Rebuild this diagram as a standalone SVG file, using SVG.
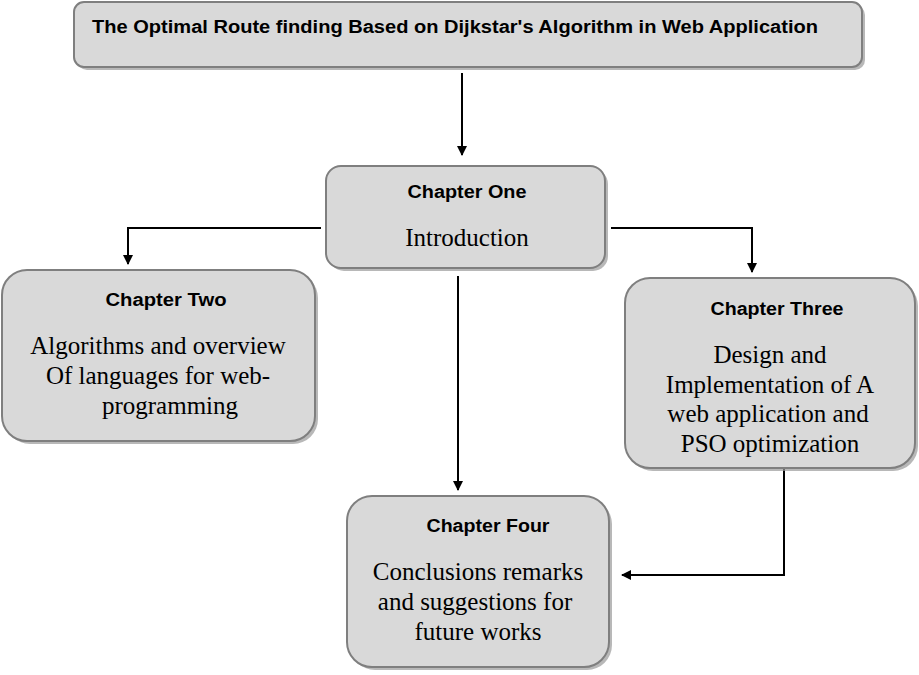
<svg xmlns="http://www.w3.org/2000/svg" width="919" height="675" viewBox="0 0 919 675">
<style>
.box{fill:#d9d9d9;stroke:#7f7f7f;stroke-width:2}
.shadow{fill:#9a9a9a;opacity:0.7}
.hd{font-family:"Liberation Sans",Arial,sans-serif;font-weight:bold;font-size:18px;fill:#000;text-anchor:middle}
.bd{font-family:"Liberation Serif","Times New Roman",serif;font-size:25px;fill:#000;text-anchor:middle}
.ln{fill:none;stroke:#000;stroke-width:2}
</style>
<defs>
<marker id="ah" markerWidth="10" markerHeight="10" refX="9" refY="5" orient="auto" markerUnits="userSpaceOnUse" viewBox="0 0 10 10">
<path d="M0,0 L10,5 L0,10 Z" fill="#000"/>
</marker>
</defs>
<rect width="919" height="675" fill="#fff"/>
<g id="connectors">
<path class="ln" d="M462,73 V155" marker-end="url(#ah)"/>
<path class="ln" d="M321,228 H128 V264" marker-end="url(#ah)"/>
<path class="ln" d="M611,228 H752 V272" marker-end="url(#ah)"/>
<path class="ln" d="M458,276 V490" marker-end="url(#ah)"/>
<path class="ln" d="M784,469 V575 H622" marker-end="url(#ah)"/>
</g>
<g id="title">
<rect class="shadow" x="77" y="5" width="788" height="65" rx="10"/>
<rect class="box" x="74" y="2" width="788" height="65" rx="10"/>
<text class="hd" x="455" y="33" textLength="726" lengthAdjust="spacingAndGlyphs">The Optimal Route finding Based on Dijkstar's Algorithm in Web Application</text>
</g>
<g id="chapter-one">
<rect class="shadow" x="329" y="169" width="279" height="102" rx="15"/>
<rect class="box" x="326" y="166" width="279" height="102" rx="15"/>
<text class="hd" x="467" y="198" textLength="119" lengthAdjust="spacingAndGlyphs">Chapter One</text>
<text class="bd" x="467" y="246">Introduction</text>
</g>
<g id="chapter-two">
<rect class="shadow" x="5" y="273" width="313" height="171" rx="25"/>
<rect class="box" x="2" y="270" width="313" height="171" rx="25"/>
<text class="hd" x="166" y="306" textLength="121" lengthAdjust="spacingAndGlyphs">Chapter Two</text>
<text class="bd" x="158" y="354">Algorithms and overview</text>
<text class="bd" x="158" y="384">Of languages for web-</text>
<text class="bd" x="170" y="414">programming</text>
</g>
<g id="chapter-three">
<rect class="shadow" x="628" y="281" width="290" height="190" rx="25"/>
<rect class="box" x="625" y="278" width="290" height="190" rx="25"/>
<text class="hd" x="777" y="315" textLength="133" lengthAdjust="spacingAndGlyphs">Chapter Three</text>
<text class="bd" x="770" y="363">Design and</text>
<text class="bd" x="770" y="393">Implementation of A</text>
<text class="bd" x="768" y="422">web application and</text>
<text class="bd" x="770" y="452">PSO optimization</text>
</g>
<g id="chapter-four">
<rect class="shadow" x="350" y="499" width="262" height="171" rx="25"/>
<rect class="box" x="347" y="496" width="262" height="171" rx="25"/>
<text class="hd" x="488" y="532" textLength="123" lengthAdjust="spacingAndGlyphs">Chapter Four</text>
<text class="bd" x="478" y="580">Conclusions remarks</text>
<text class="bd" x="475" y="610">and suggestions for</text>
<text class="bd" x="478" y="640">future works</text>
</g>
</svg>
